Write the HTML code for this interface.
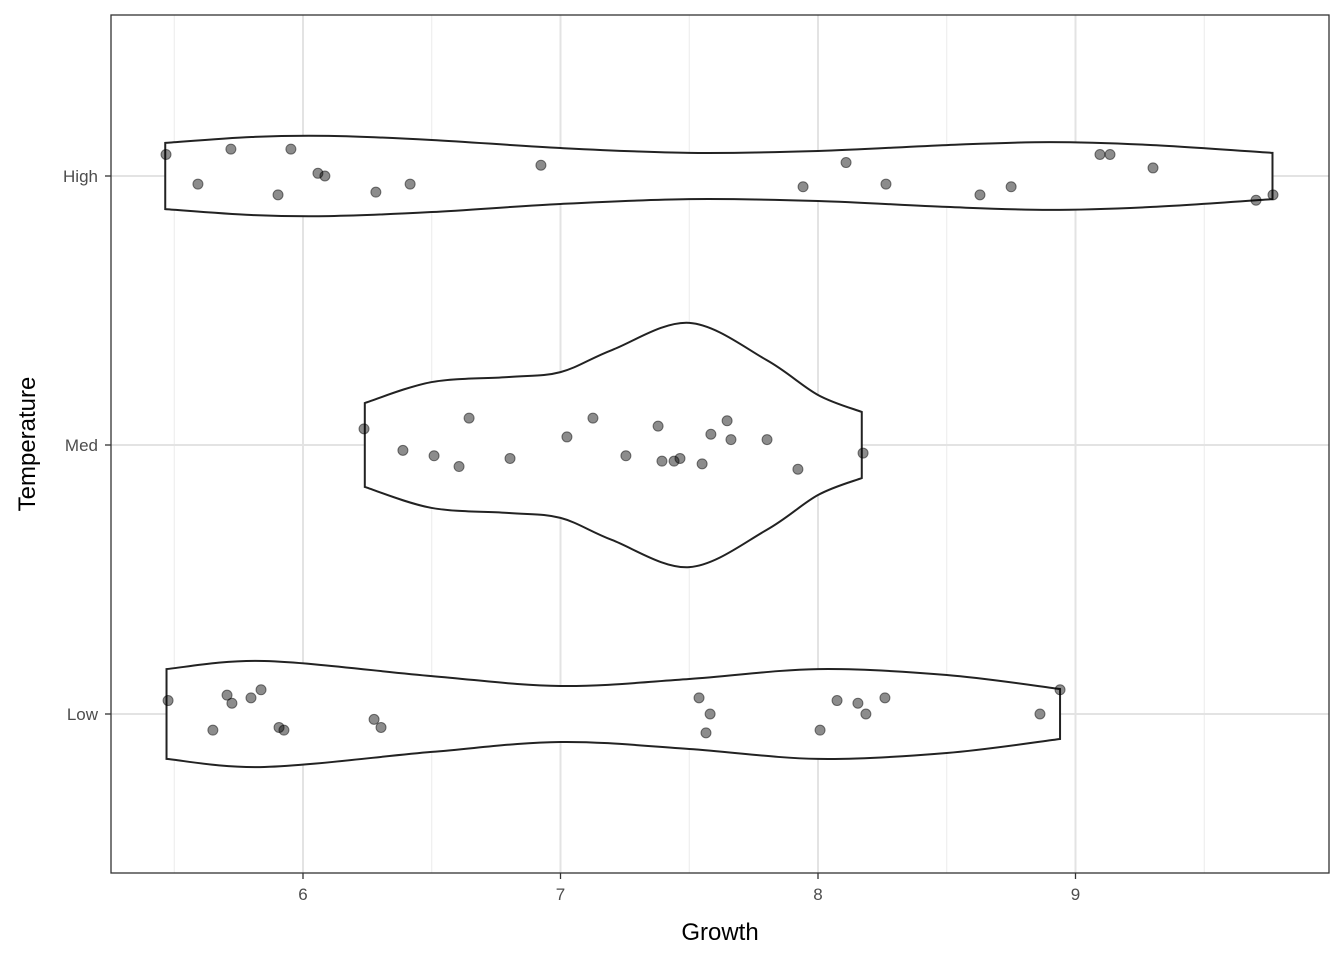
<!DOCTYPE html>
<html><head><meta charset="utf-8"><style>
body{margin:0;background:#fff}
svg{display:block;font-family:"Liberation Sans",Arial,sans-serif}
</style></head><body>
<svg id="chart" width="1344" height="960"></svg>
<script>
const categories=["Low","Med","High"];
const xTicks=[6,7,8,9];
const xMinor=[5.5,6.5,7.5,8.5,9.5];
const highGrid=[5.465,5.8,6.1,6.5,7.0,7.5,8.0,8.5,8.9,9.3,9.765];
const highWidth=[0.123,0.145,0.149,0.134,0.104,0.086,0.093,0.115,0.126,0.115,0.086];
const medGrid=[6.24,6.5,6.8,7.0,7.2,7.5,7.8,8.0,8.17];
const medWidth=[0.156,0.234,0.253,0.271,0.353,0.454,0.316,0.186,0.123];
const lowGrid=[5.47,5.85,6.5,7.0,7.5,8.0,8.5,8.94];
const lowWidth=[0.167,0.197,0.141,0.104,0.130,0.167,0.145,0.093];
const highVals=[5.468,5.592,5.720,5.903,5.953,6.058,6.085,6.283,6.416,6.924,7.942,8.109,8.264,8.629,8.750,9.095,9.134,9.301,9.701,9.767];
const highJit=[-0.08,0.03,-0.10,0.07,-0.10,-0.01,0,0.06,0.03,-0.04,0.04,-0.05,0.03,0.07,0.04,-0.08,-0.08,-0.03,0.09,0.07];
const medVals=[6.237,6.388,6.509,6.606,6.645,6.804,7.025,7.126,7.254,7.379,7.394,7.441,7.464,7.550,7.584,7.647,7.662,7.802,7.922,8.175];
const medJit=[-0.06,0.02,0.04,0.08,-0.10,0.05,-0.03,-0.10,0.04,-0.07,0.06,0.06,0.05,0.07,-0.04,-0.09,-0.02,-0.02,0.09,0.03];
const lowVals=[5.476,5.650,5.705,5.724,5.798,5.837,5.907,5.926,6.276,6.303,7.538,7.565,7.581,8.008,8.074,8.155,8.186,8.260,8.862,8.940];
const lowJit=[-0.05,0.06,-0.07,-0.04,-0.06,-0.09,0.05,0.06,0.02,0.05,-0.06,0.07,0,0.06,-0.05,-0.04,0,-0.06,0,-0.09];

const svg=document.getElementById('chart');
const NS='http://www.w3.org/2000/svg';
const L=111,R=1329,T=15,B=873;
function x(v){return 303+(v-6)*257.5;}
function y(c){return 714-c*269;}
function mk(tag,attrs,parent){const e=document.createElementNS(NS,tag);for(const k in attrs)e.setAttribute(k,attrs[k]);(parent||svg).appendChild(e);return e;}

mk('rect',{x:L,y:T,width:R-L,height:B-T,fill:'#fff'});
xMinor.forEach(v=>{const l=mk('line',{x1:x(v),x2:x(v),y1:T,y2:B,stroke:'#ebebeb','stroke-width':1});

});
xTicks.forEach(v=>{const l=mk('line',{x1:x(v),x2:x(v),y1:T,y2:B,stroke:'#e3e3e3','stroke-width':2});

});
categories.forEach((c,i)=>{const l=mk('line',{x1:L,x2:R,y1:y(i),y2:y(i),stroke:'#e3e3e3','stroke-width':2});

});

function smooth(pts){let d='';for(let i=0;i<pts.length-1;i++){const p0=pts[Math.max(0,i-1)],p1=pts[i],p2=pts[i+1],p3=pts[Math.min(pts.length-1,i+2)];
const c1=[p1[0]+(p2[0]-p0[0])/6,p1[1]+(p2[1]-p0[1])/6],c2=[p2[0]-(p3[0]-p1[0])/6,p2[1]-(p3[1]-p1[1])/6];
d+=` C${c1[0]},${c1[1]} ${c2[0]},${c2[1]} ${p2[0]},${p2[1]}`;}return d;}
function violin(grid,w,ci,name){
 const top=grid.map((g,i)=>[x(g),y(ci)-w[i]*269]);
 const bot=grid.map((g,i)=>[x(g),y(ci)+w[i]*269]).reverse();
 const d=`M${top[0][0]},${top[0][1]}`+smooth(top)+` L${bot[0][0]},${bot[0][1]}`+smooth(bot)+'Z';
 const p=mk('path',{d:d,fill:'#fff',stroke:'#222','stroke-width':2});
 
 
}
violin(lowGrid,lowWidth,0,'violin-low');
violin(medGrid,medWidth,1,'violin-med');
violin(highGrid,highWidth,2,'violin-high');
function pts(vals,jit,ci,name){vals.forEach((v,i)=>{const c=mk('circle',{cx:x(v),cy:y(ci)+jit[i]*269,r:5,fill:'rgba(0,0,0,0.45)',stroke:'rgba(0,0,0,0.5)','stroke-width':1});

});}
pts(lowVals,lowJit,0,'point-low');
pts(medVals,medJit,1,'point-med');
pts(highVals,highJit,2,'point-high');

const frame=mk('rect',{x:L,y:T,width:R-L,height:B-T,fill:'none',stroke:'#333','stroke-width':1.3});


xTicks.forEach(v=>{mk('line',{x1:x(v),x2:x(v),y1:B,y2:B+6,stroke:'#333','stroke-width':1.3});
const t=mk('text',{x:x(v),y:B+27,'text-anchor':'middle','font-size':17,fill:'#4d4d4d'});t.textContent=v;

});
categories.forEach((c,i)=>{mk('line',{x1:L-6,x2:L,y1:y(i),y2:y(i),stroke:'#333','stroke-width':1.3});
const t=mk('text',{x:L-13,y:y(i)+6,'text-anchor':'end','font-size':17,fill:'#4d4d4d'});t.textContent=c;

});
const xt=mk('text',{x:720,y:940,'text-anchor':'middle','font-size':24,fill:'#000'});xt.textContent='Growth';


const yt=mk('text',{x:0,y:0,'text-anchor':'middle','font-size':24,fill:'#000',transform:'translate(35,444) rotate(-90)'});yt.textContent='Temperature';


</script>
</body></html>
